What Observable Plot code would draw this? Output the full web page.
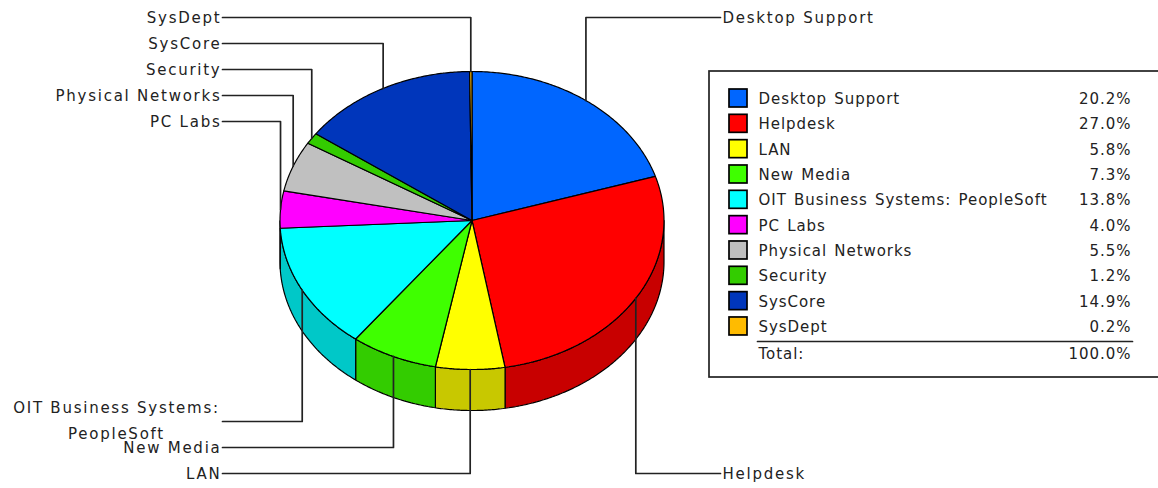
<!DOCTYPE html>
<html>
<head>
<meta charset="utf-8">
<script src="https://cdn.jsdelivr.net/npm/d3@7"></script>
<script src="https://cdn.jsdelivr.net/npm/@observablehq/plot@0.6"></script>
<style>
  html, body { margin: 0; padding: 0; background: #fff; }
  svg { display: block; }
  text[aria-label="pie labels"] { letter-spacing: 1.75px; }
  text[aria-label="legend labels"] { letter-spacing: 0.95px; word-spacing: 1.5px; }
</style>
</head>
<body>
<div id="chart"></div>
<script>
const categories = ["Desktop Support", "Helpdesk", "LAN", "New Media", "OIT Business Systems: PeopleSoft", "PC Labs", "Physical Networks", "Security", "SysCore", "SysDept"];
const shares = [20.2, 27.0, 5.8, 7.3, 13.8, 4.0, 5.5, 1.2, 14.9, 0.2];
const topColors = ["#0066ff", "#ff0000", "#ffff00", "#3fff00", "#00ffff", "#ff00ff", "#c0c0c0", "#33cc00", "#0036bb", "#ffbb00"];
const wallColors = ["#0050c8", "#c80000", "#c8c800", "#33cc00", "#00c8c8", "#c800c8", "#969696", "#289f00", "#002a92", "#c89200"];
const totalLabel = "Total:";
const totalValue = "100.0%";

// Layout of the picture
const W = 1158, H = 488;
const pie = {cx: 471.5, cy: 220, rx: 192, ry: 149, depth: 41};
const leftRowsTop = [17, 26], leftRowsBottom = [421, 26];
const legend = {x: 709, y: 71, bottom: 377, swatchX: 729, swatchSize: 18, textX: 758, valueX: 1131, firstRow: 98, rowStep: 25.33, ruleY: 341, totalY: 353};

// Slices
const total = d3.sum(shares);
let running = 0;
const slices = categories.map((name, i) => {
  const a0 = running / total * 2 * Math.PI;
  running += shares[i];
  const a1 = running / total * 2 * Math.PI;
  return {name, i, a0, a1, mid: (a0 + a1) / 2};
});
const px = a => pie.cx + pie.rx * Math.sin(a);
const py = (a, dz = 0) => pie.cy - pie.ry * Math.cos(a) + dz;
function arc(a0, a1, dz = 0) {
  const n = Math.max(2, Math.ceil((a1 - a0) / 0.01));
  return d3.range(n + 1).map(k => {
    const a = a0 + (a1 - a0) * k / n;
    return {x: px(a), y: py(a, dz)};
  });
}
const close = pts => [...pts, pts[0]];
const topPolygon = s => close([{x: pie.cx, y: pie.cy}, ...arc(s.a0, s.a1)]);
function wallPolygon(s) {
  const a0 = Math.max(s.a0, Math.PI / 2), a1 = Math.min(s.a1, 3 * Math.PI / 2);
  if (a1 <= a0) return null;
  return close([...arc(a0, a1), ...arc(a0, a1, pie.depth).reverse()]);
}

// Leader lines: from the rim at each slice's middle to its label
const leftOrder = ["SysDept", "SysCore", "Security", "Physical Networks", "PC Labs"];
const bottomOrder = ["OIT Business Systems: PeopleSoft", "New Media", "LAN"];
const labelY = {};
leftOrder.forEach((n, i) => labelY[n] = leftRowsTop[0] + i * leftRowsTop[1]);
bottomOrder.forEach((n, i) => labelY[n] = leftRowsBottom[0] + i * leftRowsBottom[1]);
labelY["Desktop Support"] = 17;
labelY["Helpdesk"] = 473;
const rightSide = new Set(["Desktop Support", "Helpdesk"]);
const leaders = slices.map(s => {
  const y = labelY[s.name], xEnd = rightSide.has(s.name) ? 720 : 222;
  return [{x: xEnd, y}, {x: px(s.mid), y}, {x: px(s.mid), y: py(s.mid)}];
});
const sideLabels = slices.filter(s => !s.name.startsWith("OIT")).map(s => ({
  text: s.name, y: labelY[s.name], x: rightSide.has(s.name) ? 722 : 221,
  anchor: rightSide.has(s.name) ? "start" : "end"
}));

const marks = [];

// Walls
slices.forEach(s => {
  const poly = wallPolygon(s);
  if (poly) marks.push(Plot.line(poly, {x: "x", y: "y", fill: wallColors[s.i], stroke: "#000", strokeWidth: 1.2, strokeLinejoin: "miter"}));
});
// Top surface
slices.forEach(s => {
  marks.push(Plot.line(topPolygon(s), {x: "x", y: "y", fill: topColors[s.i], stroke: "#000", strokeWidth: 1.2, strokeLinejoin: "miter"}));
});
// Leaders
leaders.forEach(l => marks.push(Plot.line(l, {x: "x", y: "y", stroke: "#222", strokeWidth: 1.7, curve: "linear"})));

const font = "'DejaVu Sans', sans-serif";
const fs = 15;
const pieText = {fontSize: fs, fill: "#222", dy: 0.7, ariaLabel: () => "pie labels"};
const legendText = {fontSize: fs, fill: "#222", dy: 0.7, ariaLabel: () => "legend labels"};
// Pie labels
marks.push(Plot.text(sideLabels.filter(d => d.anchor === "end"), {x: "x", y: "y", text: "text", textAnchor: "end", ...pieText}));
marks.push(Plot.text(sideLabels.filter(d => d.anchor === "start"), {x: "x", y: "y", text: "text", textAnchor: "start", ...pieText}));
marks.push(Plot.text([{x: 116, y: labelY["OIT Business Systems: PeopleSoft"] - 1, text: "OIT Business Systems:\nPeopleSoft"}], {x: "x", y: "y", text: "text", textAnchor: "middle", lineAnchor: "middle", lineHeight: 26 / fs, ...pieText, dy: -3.3}));

// Legend
const rowY = i => legend.firstRow + i * legend.rowStep;
marks.push(Plot.rect([{x1: legend.x, x2: W + 10, y1: legend.y, y2: legend.bottom}], {x1: "x1", x2: "x2", y1: "y1", y2: "y2", fill: "#fff", stroke: "#222", strokeWidth: 1.7}));
const rows = slices.map(s => ({...s, y: rowY(s.i), value: shares[s.i].toFixed(1) + "%"}));
marks.push(Plot.rect(rows, {x1: () => legend.swatchX, x2: () => legend.swatchX + legend.swatchSize, y1: d => d.y - legend.swatchSize / 2, y2: d => d.y + legend.swatchSize / 2, fill: d => topColors[d.i], stroke: "#000", strokeWidth: 1.7}));
marks.push(Plot.text(rows, {x: () => legend.textX, y: "y", text: "name", textAnchor: "start", ...legendText}));
marks.push(Plot.text(rows, {x: () => legend.valueX, y: "y", text: "value", textAnchor: "end", ...legendText}));
marks.push(Plot.line([{x: legend.textX - 1, y: legend.ruleY}, {x: legend.valueX + 1, y: legend.ruleY}], {x: "x", y: "y", stroke: "#222", strokeWidth: 1.7}));
marks.push(Plot.text([{x: legend.textX, y: legend.totalY, text: totalLabel}], {x: "x", y: "y", text: "text", textAnchor: "start", ...legendText}));
marks.push(Plot.text([{x: legend.valueX, y: legend.totalY, text: totalValue}], {x: "x", y: "y", text: "text", textAnchor: "end", ...legendText}));

const chart = Plot.plot({
  width: W, height: H,
  marginTop: 0, marginRight: 0, marginBottom: 0, marginLeft: 0,
  x: {axis: null, type: "linear", domain: [0, W], range: [0, W]},
  y: {axis: null, type: "linear", domain: [0, H], range: [0, H]},
  style: {background: "#fff", fontFamily: font},
  marks
});
document.getElementById("chart").appendChild(chart);
</script>
</body>
</html>
